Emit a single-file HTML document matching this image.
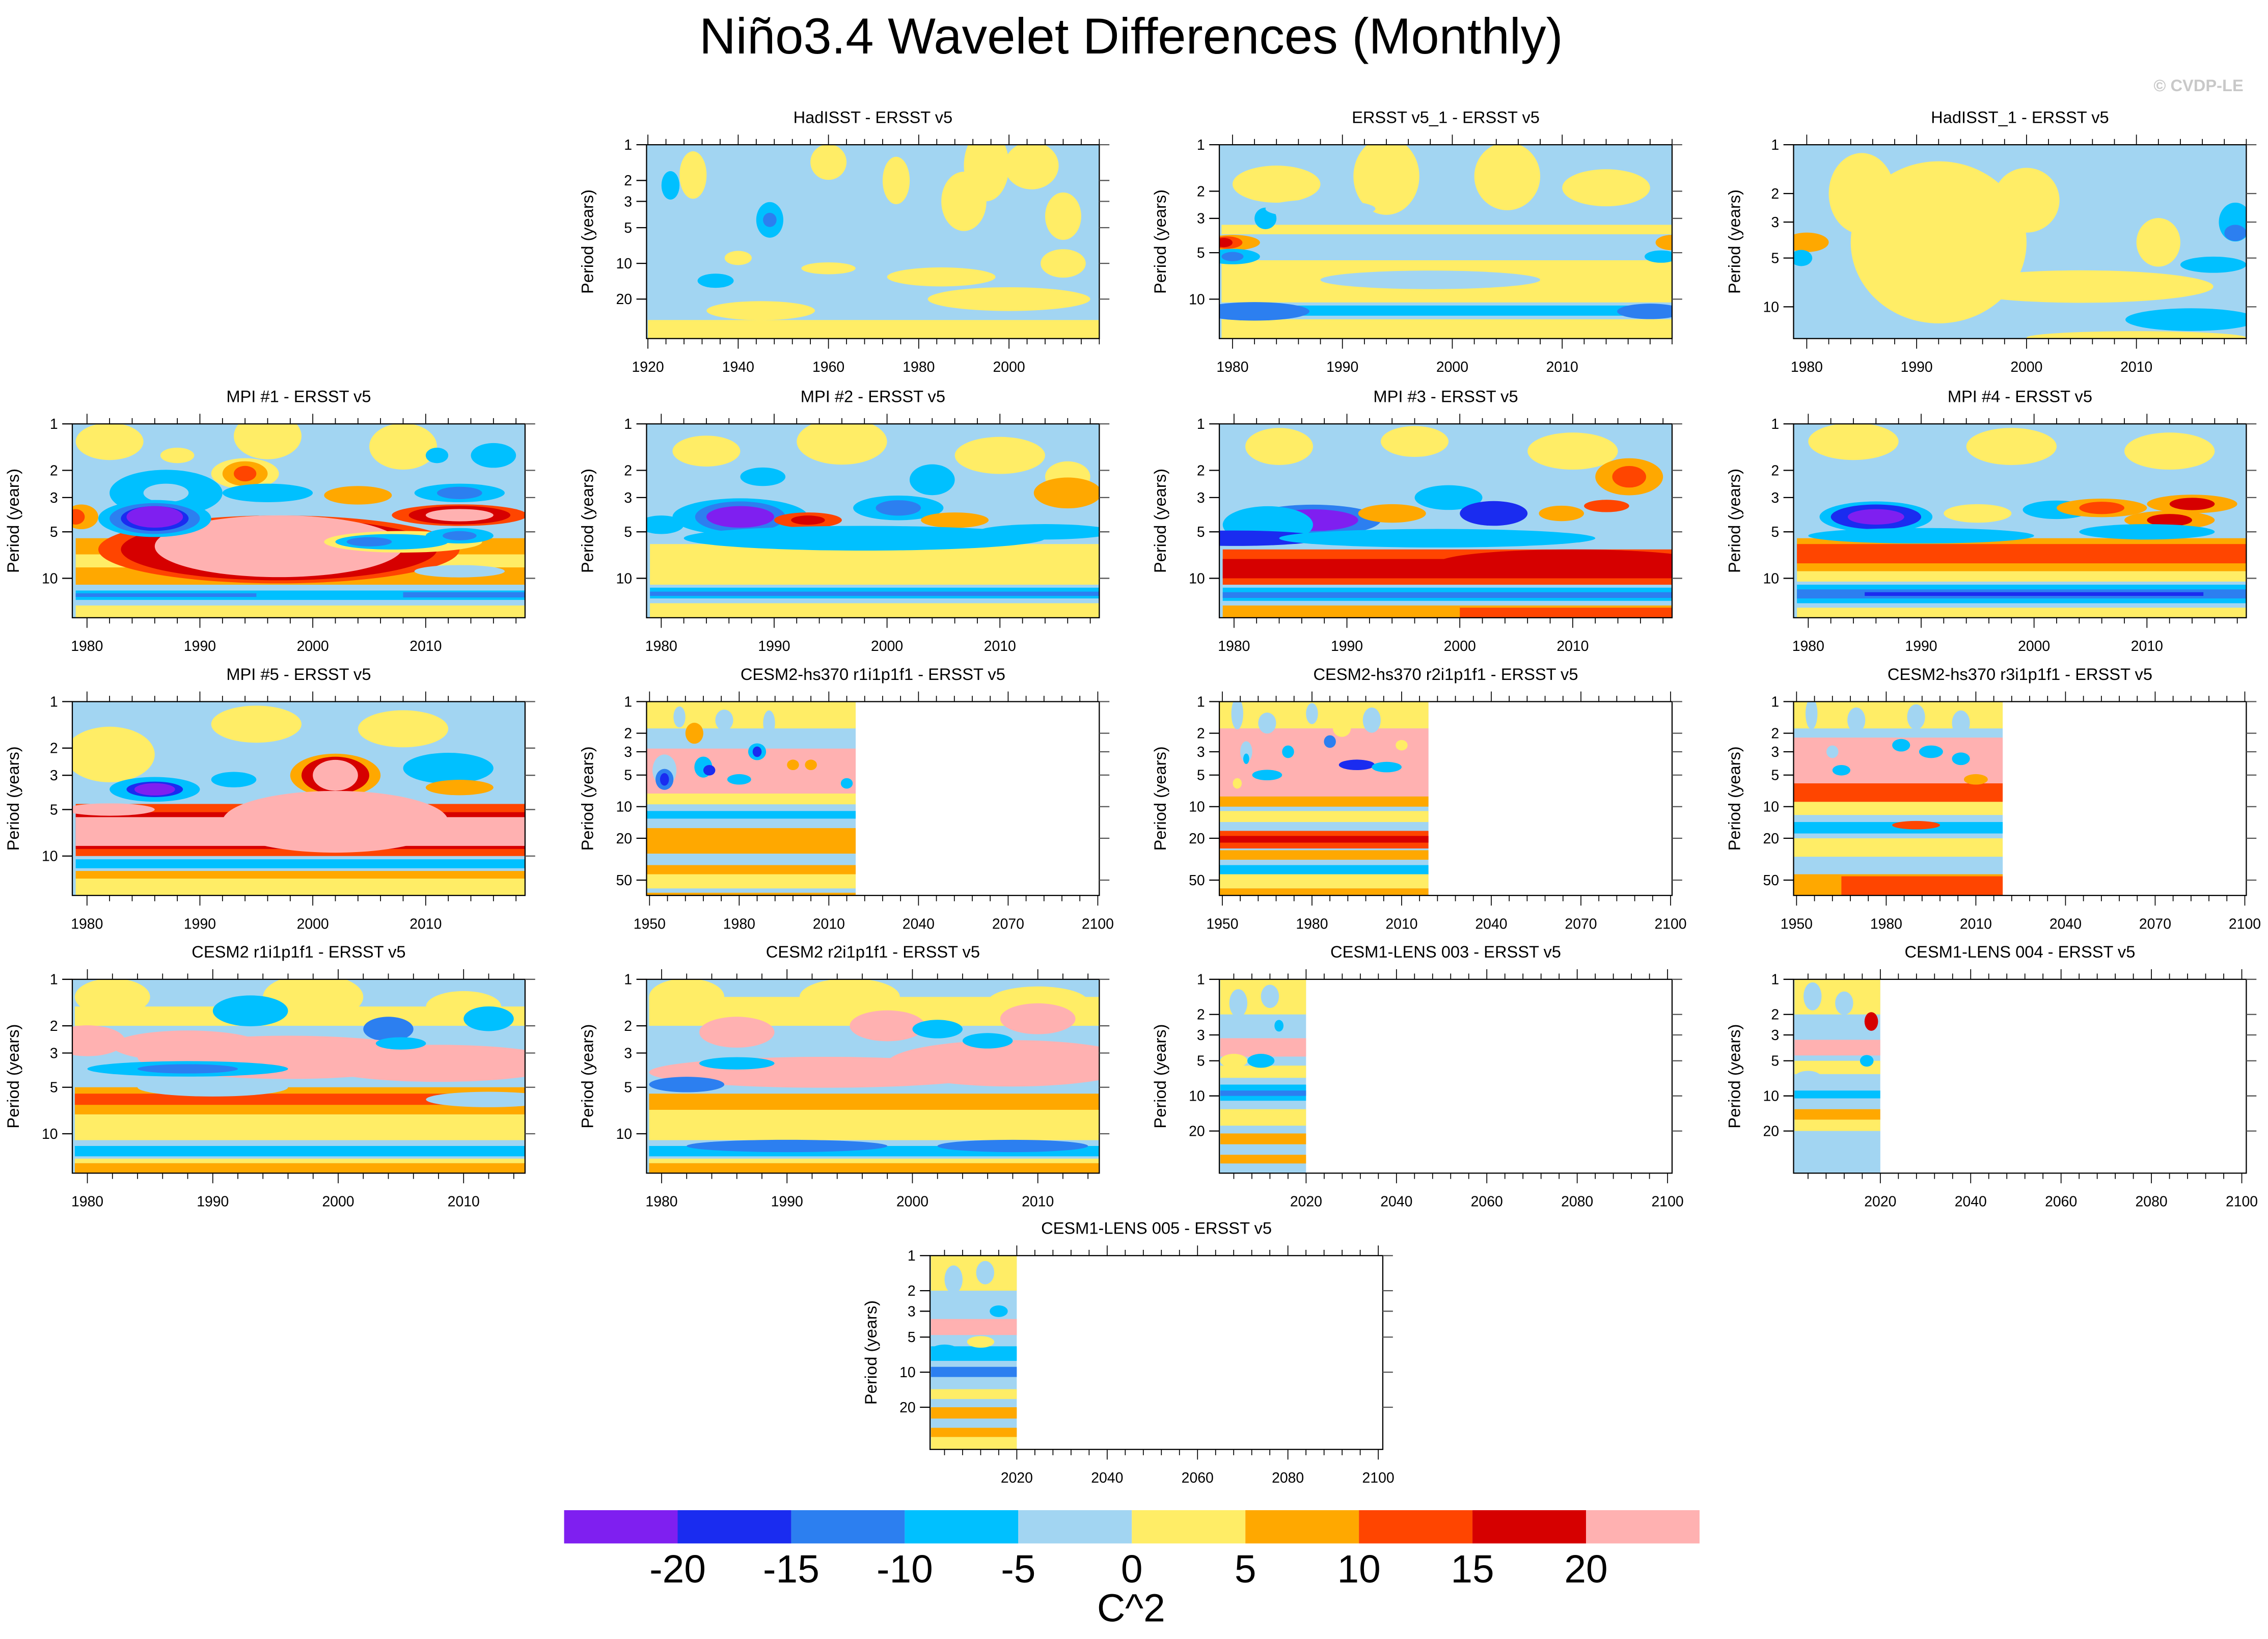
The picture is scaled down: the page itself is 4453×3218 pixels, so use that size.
<!DOCTYPE html>
<html><head><meta charset="utf-8">
<style>
html,body{margin:0;padding:0;background:#fff;}
svg{display:block;font-family:"Liberation Sans",sans-serif;}
</style></head>
<body>
<svg id="fig" width="4453" height="3218" viewBox="0 0 1568 1133" xmlns="http://www.w3.org/2000/svg">
<text x="782" y="37" text-anchor="middle" font-size="35">Niño3.4 Wavelet Differences (Monthly)</text>
<text x="1551" y="63" text-anchor="end" font-size="11.5" font-weight="bold" fill="#c8c8c8">© CVDP-LE</text>
<g id="panels"></g>
<g id="cbar"></g>
</svg>
<script>
const levelColors = ["#7f1ff0","#1a2cf0","#2c7ff0","#00c0ff","#a2d5f2","#ffed66","#ffa800","#ff4500","#d60000","#ffb1b1"];
const colorbarLabels = ["-20","-15","-10","-5","0","5","10","15","20"];
const panelTitles = ["HadISST - ERSST v5","ERSST v5_1 - ERSST v5","HadISST_1 - ERSST v5",
 "MPI #1 - ERSST v5","MPI #2 - ERSST v5","MPI #3 - ERSST v5","MPI #4 - ERSST v5",
 "MPI #5 - ERSST v5","CESM2-hs370 r1i1p1f1 - ERSST v5","CESM2-hs370 r2i1p1f1 - ERSST v5","CESM2-hs370 r3i1p1f1 - ERSST v5",
 "CESM2 r1i1p1f1 - ERSST v5","CESM2 r2i1p1f1 - ERSST v5","CESM1-LENS 003 - ERSST v5","CESM1-LENS 004 - ERSST v5","CESM1-LENS 005 - ERSST v5"];
// axis ranges: [xmin,xmax,dataEnd,periodMax]
const panelRanges = [[1919.7,2020,2020,43],[1978.8,2020,2020,18],[1978.8,2020,2020,15.7],
 [1978.7,2018.8,2018.8,18],[1978.7,2018.8,2018.8,18],[1978.7,2018.8,2018.8,18],[1978.7,2018.8,2018.8,18],
 [1978.7,2018.8,2018.8,18],[1949,2100.5,2019,70],[1949,2100.5,2019,70],[1949,2100.5,2019,70],
 [1978.8,2014.9,2014.9,18],[1978.8,2014.9,2014.9,18],[2000.8,2101,2020,46],[2000.8,2101,2020,46],[2000.8,2101,2020,46]];
const xTickSets = {had:[1920,1940,1960,1980,2000],mod:[1980,1990,2000,2010],hs:[1950,1980,2010,2040,2070,2100],lens:[2020,2040,2060,2080,2100]};
const yTickSets = {a:[1,2,3,5,10,20],b:[1,2,3,5,10],c:[1,2,3,5,10,20,50]};
const panelTickKind = [["had","a"],["mod","b"],["mod","b"],["mod","b"],["mod","b"],["mod","b"],["mod","b"],["mod","b"],["hs","c"],["hs","c"],["hs","c"],["mod","b"],["mod","b"],["lens","a"],["lens","a"],["lens","a"]];
const panelBackground = [4,4,4,4,4,4,4,4,4,4,4,4,4,4,4,4];
// bands: [yearStart, yearEnd, periodLow, periodHigh, level]
const panelBands = [
 [[1920,2020,30,43,5],[1920,2020,40,43,5]],
 [[1979,2020,3.3,3.8,5],[1979,2020,5.6,10.5,5],[1979,2020,13.5,18,5],[1979,2020,11,12.8,3]],
 [[1979,2020,1,15.7,4]],
 [[1979,2019,5.5,11,6],[1979,2019,12,13.8,3],[1979,1995,12.5,13.2,2],[2008,2019,12.3,13.3,2],[1979,2019,15,18,5],[1979,2019,7,8.5,5]],
 [[1979,2019,6,11,5],[1979,2019,11.5,13.5,3],[1979,2019,12.2,13,2],[1979,2019,14.5,18,5]],
 [[1979,2019,6.5,11,7],[1979,2019,7.5,10,8],[1979,2019,11.5,14,3],[1979,2019,12.3,13.4,2],[1979,2019,15,18,6],[2000,2019,15.5,18,7]],
 [[1979,2019,5.5,9,6],[1979,2019,6,8,7],[1979,2019,9,10.5,5],[1979,2019,11,14.5,3],[1979,2019,11.8,13.5,2],[1985,2015,12.3,13,1],[1979,2019,15.5,18,5]],
 [[1979,2019,4.6,10,7],[1979,2019,5.2,9,8],[1979,2019,5.6,8.6,9],[1979,2019,10.5,12,3],[1979,2019,12.5,14,6],[1979,2019,14,18,5]],
 [[1949,2019,1,1.8,5],[1949,2019,2.8,7.5,9],[1949,2019,7.5,9.5,5],[1949,2019,11,13,3],[1949,2019,16,28,6],[1949,2019,28,34,4],[1949,2019,36,44,6],[1949,2019,44,60,5],[1949,2019,66,70,6]],
 [[1949,2019,1,1.8,5],[1949,2019,1.8,8,9],[1949,2019,8,10,6],[1949,2019,11,14,5],[1949,2019,17,25,7],[1949,2019,19,22,8],[1949,2019,26,32,6],[1949,2019,36,44,3],[1949,2019,44,60,5],[1949,2019,60,70,6]],
 [[1949,2019,1,1.8,5],[1949,2019,2.2,6,9],[1949,2019,6,9,7],[1949,2019,9,12,5],[1949,2019,14,18,3],[1949,2019,20,30,5],[1949,2019,30,42,4],[1949,2019,44,70,6],[1965,2019,46,70,7]],
 [[1979,2015,1.5,2,5],[1979,2015,5,7.5,6],[1979,2015,5.5,6.5,7],[1979,2015,7.5,11,5],[1979,2015,12,14,3],[1979,2015,15.5,18,6],[1979,2015,14.5,15.5,5]],
 [[1979,2015,1.3,2,5],[1979,2015,5.5,7,6],[1979,2015,7,11,5],[1979,2015,12,14,3],[1979,2015,15.5,18,6],[1979,2015,14.5,15.5,5]],
 [[2001,2020,1,2,5],[2001,2020,3.2,4.6,9],[2001,2020,5.5,7,5],[2001,2020,8,11,3],[2001,2020,9,10,2],[2001,2020,13,18,5],[2001,2020,21,26,6],[2001,2020,32,38,6]],
 [[2001,2020,1,2,5],[2001,2020,3.3,4.5,9],[2001,2020,5,6.5,5],[2001,2020,9,10.5,3],[2001,2020,13,16,6],[2001,2020,16,20,5],[2001,2020,20,46,4]],
 [[2001,2020,1,2,5],[2001,2020,3.5,4.8,9],[2001,2020,6,8,3],[2001,2020,9,11,2],[2001,2020,14,17,5],[2001,2020,20,25,6],[2001,2020,30,36,6],[2001,2020,36,46,5]]
];
// blobs: [year, period, radiusYears, radiusDecades, level]
const panelBlobs = [
 [[1925,2.2,2,0.12,3],[1947,4.3,3,0.15,3],[1947,4.3,1.5,0.06,2],[1990,3,5,0.25,5],[1960,1.4,4,0.15,5],[1975,2,3,0.2,5],[2005,1.5,6,0.2,5],[2012,4,4,0.2,5],[1940,9,3,0.06,5],[1960,11,6,0.05,5],[1985,13,12,0.08,5],[2012,10,5,0.12,5],[1935,14,4,0.06,3],[1945,25,12,0.08,5],[2000,20,18,0.1,5],[1930,1.8,3,0.2,5],[1995,1.5,5,0.3,5]],
 [[1980,4.3,2.5,0.05,6],[1979.5,4.3,1.4,0.04,7],[1979.2,4.3,0.8,0.03,8],[2020,4.3,1.5,0.05,6],[1980,5.3,2.5,0.05,3],[1980,5.3,1,0.03,2],[2019,5.3,1.5,0.04,3],[1982,12,5,0.06,2],[2018,12,3,0.05,2],[1984,1.8,4,0.12,5],[1994,1.6,3,0.25,5],[2005,1.6,3,0.22,5],[2014,1.9,4,0.12,5],[1998,7.5,10,0.06,4],[1983,3,1,0.07,3],[1988,2.6,5,0.06,4]],
 [[1992,4,8,0.5,5],[1985,2,3,0.25,5],[2005,7.5,12,0.1,5],[2000,2.2,3,0.2,5],[2012,4,2,0.15,5],[2019,3,1.5,0.12,3],[2019,3.5,1,0.05,2],[1980,4,2,0.06,6],[1979.5,5,1,0.05,3],[2015,12,6,0.07,3],[2010,15.5,10,0.04,5],[2017,5.5,3,0.05,3]],
 [[1982,1.3,3,0.12,5],[1996,1.2,3,0.15,5],[2008,1.4,3,0.15,5],[1988,1.6,1.5,0.05,5],[1994,2.1,3,0.1,5],[1994,2.1,2,0.08,6],[1994,2.1,1,0.05,7],[1987,2.8,5,0.15,3],[1987,2.8,2,0.06,4],[1996,2.8,4,0.06,3],[2004,2.9,3,0.06,6],[2013,2.8,4,0.06,3],[2013,2.8,2,0.04,2],[2016,1.6,2,0.08,3],[2011,1.6,1,0.05,3],
  [1997,6.5,16,0.22,7],[1997,6.5,14,0.2,8],[1997,6.2,11,0.2,9],[2013,3.9,6,0.07,7],[2013,3.9,4.5,0.06,8],[2013,3.9,3,0.04,9],[2008,5.8,7,0.07,5],[2007,5.8,5,0.05,3],[2005,5.8,2,0.03,2],[2013,5.3,3,0.05,3],[2013,5.3,1.5,0.03,2],[1986,4.1,5,0.12,3],[1986,4.1,4,0.1,2],[1986,4.1,3,0.08,1],[1986,4,2.5,0.07,0],[1979.5,4,1.5,0.08,6],[1979,4,0.8,0.05,7],[2013,9,4,0.04,4]],
 [[1984,1.5,3,0.1,5],[1996,1.3,4,0.15,5],[2010,1.6,4,0.12,5],[2016,2.2,2,0.1,5],[1989,2.2,2,0.06,3],[2004,2.3,2,0.1,3],[1987,4,6,0.12,3],[1987,4,4,0.1,2],[1987,4,3,0.07,0],[1993,4.2,3,0.05,7],[1993,4.2,1.5,0.03,8],[2001,3.5,4,0.08,3],[2001,3.5,2,0.05,2],[2006,4.2,3,0.05,6],[1998,5.5,16,0.08,3],[2014,5,6,0.05,3],[2016,2.8,3,0.1,6],[1980,4.5,2,0.06,3]],
 [[1984,1.4,3,0.12,5],[1996,1.3,3,0.1,5],[2010,1.5,4,0.12,5],[2015,2.2,3,0.12,6],[2015,2.2,1.5,0.07,7],[1987,4.2,6,0.1,2],[1987,4.2,4,0.07,0],[1983,4.5,4,0.12,3],[1994,3.8,3,0.06,6],[1999,3,3,0.08,3],[2003,3.8,3,0.08,1],[2009,3.8,2,0.05,6],[2013,3.4,2,0.04,7],[1980,5.5,8,0.05,1],[1998,5.5,14,0.06,3],[2010,8,10,0.06,9],[2010,8,12,0.09,8]],
 [[1984,1.3,4,0.12,5],[1998,1.4,4,0.12,5],[2012,1.5,4,0.12,5],[1986,4,5,0.1,3],[1986,4,4,0.08,1],[1986,4,2.5,0.05,0],[1995,3.8,3,0.06,5],[2002,3.6,3,0.06,3],[2006,3.5,4,0.06,6],[2006,3.5,2,0.04,7],[2014,3.3,4,0.06,6],[2014,3.3,2,0.04,8],[2012,4.2,4,0.06,6],[2012,4.2,2,0.04,8],[1990,5.3,10,0.05,3],[2010,5,6,0.05,3]],
 [[1982,2.2,4,0.18,5],[1995,1.4,4,0.12,5],[2008,1.5,4,0.12,5],[1986,3.7,4,0.08,3],[1986,3.7,2.5,0.05,1],[1986,3.7,1.8,0.04,0],[1993,3.2,2,0.05,3],[2002,3,4,0.14,6],[2002,3,3,0.12,8],[2002,3,2,0.1,9],[2002,6,10,0.2,9],[2012,2.7,4,0.1,3],[2013,3.6,3,0.05,6],[1982,5,4,0.04,9]],
 [[1955,4.5,4,0.15,4],[1955,5.5,3,0.1,2],[1955,5.5,1.5,0.06,1],[1968,4.2,3,0.1,3],[1970,4.5,2,0.05,1],[1986,3,3,0.08,3],[1986,3,1.5,0.05,1],[1980,5.5,4,0.05,3],[1998,4,2,0.05,6],[2004,4,2,0.05,6],[1965,2,3,0.1,6],[1975,1.5,3,0.1,4],[1990,1.6,2,0.12,4],[1960,1.4,2,0.1,4],[2016,6,2,0.05,3]],
 [[1955,1.3,2,0.15,4],[1965,1.6,3,0.1,4],[1980,1.3,2,0.1,4],[2000,1.5,3,0.12,4],[1958,3,2,0.1,4],[1958,3.5,1,0.05,3],[1972,3,2,0.06,3],[1986,2.4,2,0.06,2],[1995,4,6,0.05,1],[2005,4.2,5,0.05,3],[1965,5,5,0.05,3],[2010,2.6,2,0.05,5],[1955,6,1.5,0.05,5],[1990,1.8,3,0.08,5]],
 [[1955,1.3,2,0.15,4],[1970,1.5,3,0.12,4],[1990,1.4,3,0.12,4],[2005,1.6,3,0.12,4],[1962,3,2,0.06,4],[1985,2.6,3,0.06,3],[1995,3,4,0.06,3],[2005,3.5,3,0.06,3],[1965,4.5,3,0.05,3],[2010,5.5,4,0.05,6],[1990,15,8,0.04,7]],
 [[1982,1.3,3,0.12,5],[1998,1.3,4,0.15,5],[2010,1.5,3,0.1,5],[1993,1.6,3,0.1,3],[2004,2.1,2,0.08,2],[2012,1.8,2,0.08,3],[1988,2.7,6,0.1,9],[1996,3.2,12,0.14,9],[2008,3.5,10,0.12,9],[1980,2.5,3,0.1,9],[1988,3.8,8,0.05,3],[1988,3.8,4,0.03,2],[2005,2.6,2,0.04,3],[1990,5,6,0.06,4],[2012,6,5,0.05,4]],
 [[1982,1.3,3,0.12,5],[1995,1.3,4,0.12,5],[2010,1.4,4,0.1,5],[1986,2.2,3,0.1,9],[1998,2,3,0.1,9],[2010,1.8,3,0.1,9],[1993,4,14,0.1,9],[2008,3.5,10,0.15,9],[1986,3.5,3,0.04,3],[2006,2.5,2,0.05,3],[2002,2.1,2,0.06,3],[1990,12,8,0.04,2],[2008,12,6,0.04,2],[1982,4.8,3,0.05,2]],
 [[2005,1.6,2,0.12,4],[2012,1.4,2,0.1,4],[2008,2.5,2,0.08,4],[2014,2.5,1,0.05,3],[2004,5,3,0.06,5],[2010,5,3,0.06,3]],
 [[2005,1.4,2,0.12,4],[2012,1.6,2,0.1,4],[2010,2.5,3,0.08,4],[2018,2.3,1.5,0.08,8],[2017,5,1.5,0.05,3],[2004,7,3,0.06,4]],
 [[2006,1.6,2,0.12,4],[2013,1.4,2,0.1,4],[2008,2.5,3,0.08,4],[2016,3,2,0.05,3],[2004,6.5,3,0.05,3],[2012,5.5,3,0.05,5]]
];
const panelLayout = [[447,100],[843,100],[1240,100],[50,293],[447,293],[843,293],[1240,293],[50,485],[447,485],[843,485],[1240,485],[50,677],[447,677],[843,677],[1240,677],[643,868]];
const PW = 313, PH = 134;
const NS = "http://www.w3.org/2000/svg";
function mk(tag, attrs, parent){const e=document.createElementNS(NS,tag);for(const k in attrs)e.setAttribute(k,attrs[k]);if(parent)parent.appendChild(e);return e;}

const root = document.getElementById('panels');
panelTitles.forEach((title,i)=>{
  const [px,py] = panelLayout[i];
  const [xmin,xmax,dEnd,pmax] = panelRanges[i];
  const xs = y => px + (y-xmin)/(xmax-xmin)*PW;
  const ys = p => py + Math.log10(p)/Math.log10(pmax)*PH;
  const g = mk('g',{},root);
  
  
  const cid='clip'+i;
  const cp = mk('clipPath',{id:cid},g);
  mk('rect',{x:px,y:py,width:xs(dEnd)-px,height:PH},cp);
  const plot = mk('g',{'clip-path':'url(#'+cid+')'},g);
  
  
  mk('rect',{x:px,y:py,width:xs(dEnd)-px,height:PH,fill:levelColors[panelBackground[i]]},plot);
  panelBands[i].forEach(b=>{
    const r = mk('rect',{x:xs(b[0]),y:ys(b[2]),width:xs(b[1])-xs(b[0]),height:ys(b[3])-ys(b[2]),fill:levelColors[b[4]]},plot);
    
    
  });
  panelBlobs[i].forEach(b=>{
    const cy = ys(b[1]);
    const ry = b[3]/Math.log10(pmax)*PH;
    const rx = b[2]/(xmax-xmin)*PW;
    const e = mk('ellipse',{cx:xs(b[0]),cy:cy,rx:rx,ry:ry,fill:levelColors[b[4]]},plot);
    
    
  });
  mk('rect',{x:px,y:py,width:PW,height:PH,fill:'none',stroke:'#000','stroke-width':0.8},g);
  const t = mk('text',{x:px+PW/2,y:py-15,'text-anchor':'middle','font-size':11.5},g);
  t.textContent = title;
  
  
  const yl = mk('text',{x:0,y:0,'text-anchor':'middle','font-size':11.5,transform:`translate(${px-37},${py+PH/2}) rotate(-90)`},g);
  yl.textContent = 'Period (years)';
  
  
  const [xk,yk] = panelTickKind[i];
  yTickSets[yk].forEach(v=>{
    const y = ys(v);
    mk('line',{x1:px-7,x2:px,y1:y,y2:y,stroke:'#000','stroke-width':0.8},g);
    mk('line',{x1:px+PW,x2:px+PW+7,y1:y,y2:y,stroke:'#555','stroke-width':0.8},g);
    const tl = mk('text',{x:px-10,y:y+3.5,'text-anchor':'end','font-size':10},g);
    tl.textContent = v;
    
    
  });
  const xt = xTickSets[xk];
  const step = (xt[1]-xt[0]);
  const minor = step/5;
  for(let v=Math.ceil(xmin/minor)*minor; v<=xmax+1e-6; v+=minor){
    const x = xs(v);
    const major = xt.some(m=>Math.abs(m-v)<1e-6);
    const L = major?7:4;
    mk('line',{x1:x,x2:x,y1:py-L,y2:py,stroke:'#000','stroke-width':0.6},g);
    mk('line',{x1:x,x2:x,y1:py+PH,y2:py+PH+L,stroke:'#000','stroke-width':0.6},g);
  }
  xt.forEach(v=>{
    const tl = mk('text',{x:xs(v),y:py+PH+23,'text-anchor':'middle','font-size':10},g);
    tl.textContent = v;
    
    
  });
});

const cb = document.getElementById('cbar');
const cbX = 390, cbW = 785, cbY = 1044, cbH = 23;
const bw = cbW/levelColors.length;
levelColors.forEach((c,k)=>{
  const r = mk('rect',{x:cbX+k*bw,y:cbY,width:bw,height:cbH,fill:c},cb);
  
  
});
colorbarLabels.forEach((lab,k)=>{
  const t = mk('text',{x:cbX+(k+1)*bw,y:1094,'text-anchor':'middle','font-size':27},cb);
  t.textContent = lab;
  
  
});
const u = mk('text',{x:782,y:1121,'text-anchor':'middle','font-size':27},cb);
u.textContent = 'C^2';


</script>
</body></html>
